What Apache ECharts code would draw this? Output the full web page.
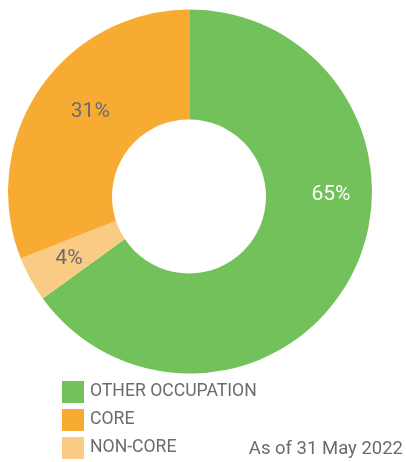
<!DOCTYPE html>
<html>
<head>
<meta charset="utf-8">
<script src="https://cdn.jsdelivr.net/npm/echarts@6/dist/echarts.min.js"></script>
<style>
html,body{margin:0;padding:0;background:#fff;}
#chart{width:406px;height:462px;}
</style>
</head>
<body>
<div id="chart"></div>
<script>
// Data (clockwise from top)
var categories = ['OTHER OCCUPATION', 'NON-CORE', 'CORE'];
var values = [65, 4, 31];
var legendOrder = ['OTHER OCCUPATION', 'CORE', 'NON-CORE'];
var note = 'As of 31 May 2022';

var colors = ['#72C15A', '#FACB85', '#F8AB33'];
var labelColors = ['#ffffff', '#6b6b6b', '#6b6b6b'];
var labelShift = [[26, -55], [-8, 5], [7, -7]];

var chart = echarts.init(document.getElementById('chart'), null, {renderer: 'canvas'});
var FONT = 'Roboto, "Noto Sans", sans-serif';

var data = categories.map(function (c, i) {
  return {
    name: c,
    value: values[i],
    itemStyle: {color: colors[i]},
    label: {color: labelColors[i]}
  };
});

chart.setOption({
  backgroundColor: '#ffffff',
  animation: false,
  title: {
    text: note,
    right: 3,
    top: 440,
    padding: 0,
    textStyle: {fontFamily: FONT, fontSize: 18.5, fontWeight: 'normal', color: '#6b6b6b'}
  },
  legend: {
    data: legendOrder,
    orient: 'vertical',
    left: 62,
    top: 381,
    padding: 0,
    itemWidth: 22,
    itemHeight: 22,
    itemGap: 6,
    icon: 'rect',
    selectedMode: false,
    textStyle: {fontFamily: FONT, fontSize: 17.6, color: '#6b6b6b', padding: [0, 0, 0, 1]}
  },
  graphic: [{
    type: 'circle',
    shape: {cx: 189, cy: 196.5, r: 77},
    style: {fill: '#ffffff'},
    z: 100,
    silent: true
  }],
  series: [{
    type: 'pie',
    center: [190, 191.5],
    radius: [70, 182],
    startAngle: 90,
    clockwise: true,
    avoidLabelOverlap: false,
    silent: true,
    label: {
      show: true,
      position: 'inside',
      formatter: '{c}%',
      fontFamily: FONT,
      fontSize: 21,
      fontWeight: 'normal'
    },
    labelLine: {show: false},
    labelLayout: function (p) {
      var s = labelShift[p.dataIndex];
      return {dx: s[0], dy: s[1]};
    },
    itemStyle: {borderWidth: 0},
    data: data
  }]
});
</script>
</body>
</html>
